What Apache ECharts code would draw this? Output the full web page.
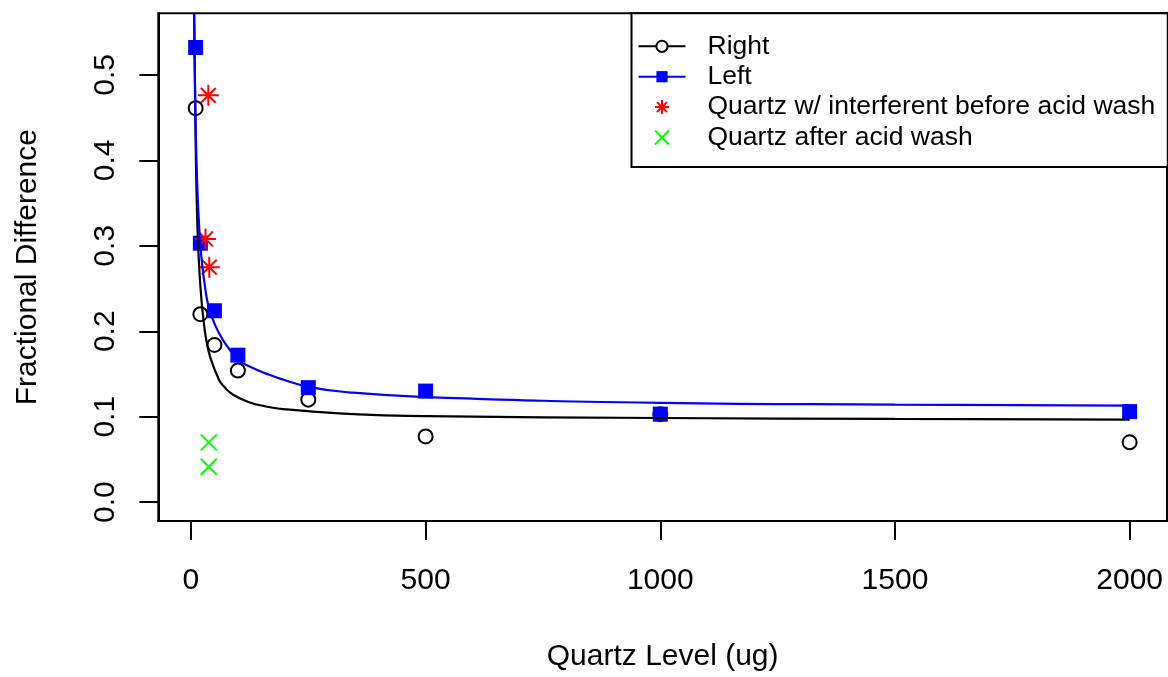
<!DOCTYPE html>
<html><head><meta charset="utf-8">
<script src="https://cdn.jsdelivr.net/npm/echarts@6/dist/echarts.min.js"></script>
<style>html,body{margin:0;padding:0;background:#fff}#c{width:1168px;height:677px}</style>
</head><body><div id="c"></div>
<script>
// ---- data ----
const quartzLevels = [10, 20, 50, 100, 250, 500, 1000, 2000];
const rightValues  = [0.461, 0.220, 0.184, 0.154, 0.120, 0.077, 0.103, 0.070];
const leftValues   = [0.532, 0.303, 0.224, 0.172, 0.134, 0.130, 0.103, 0.106];

const interferentX = [37, 31, 39];
const interferentY = [0.476, 0.308, 0.275];
const afterWashX   = [38, 38];
const afterWashY   = [0.070, 0.0415];

// fitted curves
const rightFitX = [6.8, 9.6, 13, 17, 22, 26, 32, 42, 60, 71, 89, 124, 160, 196, 358, 500, 1000, 1500, 2000];
const rightFitY = [0.572, 0.436, 0.337, 0.280, 0.239, 0.217, 0.192, 0.168, 0.143, 0.135, 0.126, 0.117, 0.112, 0.109, 0.1027, 0.1008, 0.0985, 0.0974, 0.0965];
const leftFitX  = [6.8, 10.2, 15, 22, 30, 37.5, 48.6, 68, 100, 124, 167, 196, 250, 337, 500, 1000, 1500, 2000];
const leftFitY  = [0.572, 0.436, 0.348, 0.288, 0.252, 0.229, 0.211, 0.190, 0.167, 0.159, 0.149, 0.1435, 0.135, 0.1285, 0.123, 0.1163, 0.1142, 0.1131];

const xTicks = [0, 500, 1000, 1500, 2000];
const yTicks = [0, 0.1, 0.2, 0.3, 0.4, 0.5];
const seriesNames = ['Right', 'Left', 'Quartz w/ interferent before acid wash', 'Quartz after acid wash'];
const xTitle = 'Quartz Level (ug)';
const yTitle = 'Fractional Difference';

// ---- chart ----
const zip = (xs, ys) => xs.map((x, i) => [x, ys[i]]);
const FONT = "'Liberation Sans', Arial, Helvetica, sans-serif";
const STAR = 'path://M0,-1.414L0,1.414M-1.414,0L1.414,0M-1,-1L1,1M-1,1L1,-1';
const CROSS = 'path://M-1,-1L1,1M-1,1L1,-1';

const chart = echarts.init(document.getElementById('c'), null, {renderer: 'canvas'});
chart.setOption({
  animation: false,
  backgroundColor: '#fff',
  textStyle: {fontFamily: FONT},
  grid: {left: 158.3, right: 1, top: 13.3, bottom: 153, show: true, borderColor: '#000', borderWidth: 2, containLabel: false},
  legend: {
    left: 631.5, top: 13.3,
    orient: 'vertical',
    data: seriesNames,
    itemWidth: 47, itemHeight: 14, itemGap: 3.4,
    padding: [19.5, 12.5, 16, 6],
    backgroundColor: '#fff', borderColor: '#000', borderWidth: 2, borderRadius: 0,
    selectedMode: false,
    textStyle: {fontFamily: FONT, fontSize: 26.5, color: '#000', padding: [0, 0, 0, 17]}
  },
  xAxis: {
    type: 'value', min: -69.6, max: 2079.6,
    name: xTitle, nameLocation: 'middle', nameGap: 121,
    nameTextStyle: {fontFamily: FONT, fontSize: 30, color: '#000'},
    axisLine: {show: true, onZero: false, lineStyle: {color: '#000', width: 2}},
    axisTick: {show: true, inside: false, length: 19, lineStyle: {color: '#000', width: 2}, customValues: xTicks},
    axisLabel: {fontFamily: FONT, fontSize: 30, color: '#000', margin: 45, customValues: xTicks,
      formatter: v => String(v)},
    splitLine: {show: false}
  },
  yAxis: {
    type: 'value', min: -0.022, max: 0.572,
    name: yTitle, nameLocation: 'middle', nameGap: 116,
    nameTextStyle: {fontFamily: FONT, fontSize: 30, color: '#000'},
    axisLine: {show: true, onZero: false, lineStyle: {color: '#000', width: 2}},
    axisTick: {show: true, inside: false, length: 19, lineStyle: {color: '#000', width: 2}, customValues: yTicks},
    axisLabel: {fontFamily: FONT, fontSize: 30, color: '#000', margin: 38, rotate: 90, customValues: yTicks,
      formatter: v => Number(v).toFixed(1)},
    splitLine: {show: false}
  },
  series: [
    {name: seriesNames[0], type: 'line', data: zip(rightFitX, rightFitY), smooth: 0.5,
     showSymbol: false, symbol: 'emptyCircle', z: 3, clip: true,
     lineStyle: {color: '#000', width: 2.2}, itemStyle: {color: '#000'}},
    {name: seriesNames[1], type: 'line', data: zip(leftFitX, leftFitY), smooth: 0.5,
     showSymbol: false, symbol: 'rect', z: 3, clip: true,
     lineStyle: {color: '#0000FF', width: 2.2}, itemStyle: {color: '#0000FF'}},
    {name: seriesNames[0], type: 'scatter', data: zip(quartzLevels, rightValues), symbol: 'circle', symbolSize: 14,
     itemStyle: {color: 'rgba(0,0,0,0)', borderColor: '#000', borderWidth: 2, opacity: 1}},
    {name: seriesNames[1], type: 'scatter', data: zip(quartzLevels, leftValues), symbol: 'rect', symbolSize: 15,
     itemStyle: {color: '#0000FF', opacity: 1}},
    {name: seriesNames[2], type: 'scatter', data: zip(interferentX, interferentY), symbol: STAR, symbolSize: 21,
     itemStyle: {color: '#FF0000', borderColor: '#FF0000', borderWidth: 2, opacity: 1}},
    {name: seriesNames[3], type: 'scatter', data: zip(afterWashX, afterWashY), symbol: CROSS, symbolSize: 16,
     itemStyle: {color: '#00FF00', borderColor: '#00FF00', borderWidth: 2, opacity: 1}}
  ]
});
</script>
</body></html>
